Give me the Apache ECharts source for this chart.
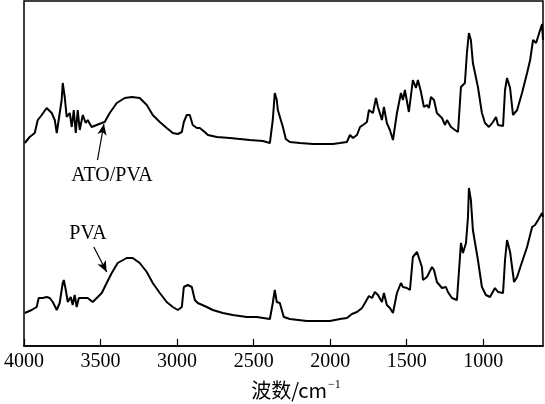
<!DOCTYPE html>
<html>
<head>
<meta charset="utf-8">
<script src="https://cdn.jsdelivr.net/npm/echarts@6/dist/echarts.min.js"></script>
<style>html,body{margin:0;padding:0;background:#fff}#c{width:545px;height:404px}</style>
</head>
<body>
<div id="c"></div>
<script>
const tickValues = [4000, 3500, 3000, 2500, 2000, 1500, 1000];
const xTitle = '波数/cm';
const labelTop = 'ATO/PVA';
const labelBottom = 'PVA';

const atoX = [3995,3963,3930,3910,3884,3852,3839,3819,3799,3786,3773,3754,3747,3734,3721,3701,3688,3675,3662,3649,3636,3616,3597,3584,3558,3525,3492,3473,3440,3394,3342,3296,3244,3198,3159,3113,3068,3028,2995,2969,2956,2937,2917,2898,2871,2852,2819,2799,2740,2656,2590,2525,2440,2394,2375,2362,2349,2342,2329,2309,2290,2264,2198,2113,2021,1982,1936,1891,1871,1851,1825,1805,1786,1760,1747,1740,1721,1701,1688,1662,1649,1630,1610,1590,1564,1538,1525,1512,1486,1460,1440,1427,1407,1388,1368,1355,1342,1322,1303,1270,1250,1237,1211,1185,1165,1146,1133,1120,1107,1094,1081,1068,1035,1009,989,963,937,917,904,871,858,845,825,806,779,747,714,694,675,655,635,616,610];
const atoY = [203,209,213,226,231,238,239,233,226,213,214,246,263,249,229,233,219,236,213,236,216,231,223,226,219,221,223,224,233,243,248,249,248,241,231,224,218,213,212,214,224,231,231,221,218,218,214,211,209,208,207,206,205,203,226,253,246,236,234,219,207,204,203,202,202,202,203,204,211,208,211,219,221,224,236,236,233,248,239,226,239,223,216,206,233,253,246,256,234,266,258,266,254,239,241,238,249,246,233,228,221,226,219,216,214,259,261,263,293,313,306,283,259,233,223,219,224,229,221,220,256,268,258,231,236,253,273,286,306,303,313,322,306];

const pvaX = [3995,3950,3917,3904,3878,3852,3832,3812,3786,3767,3747,3740,3727,3714,3695,3682,3669,3656,3642,3616,3584,3551,3518,3492,3460,3427,3388,3329,3290,3244,3198,3159,3113,3068,3028,2995,2969,2956,2943,2930,2904,2884,2865,2852,2806,2767,2701,2636,2545,2479,2394,2375,2362,2349,2329,2303,2264,2152,2002,1936,1891,1858,1825,1792,1773,1747,1727,1708,1688,1682,1662,1649,1630,1610,1590,1564,1538,1525,1499,1479,1460,1433,1420,1401,1394,1368,1355,1335,1322,1303,1270,1244,1231,1205,1172,1159,1146,1133,1113,1100,1094,1081,1068,1035,1009,983,956,924,904,871,858,845,825,799,779,747,714,681,662,642,616,610];
const pvaY = [33,36,39,48,48,49,48,44,36,43,63,66,56,44,49,41,51,39,48,48,48,44,49,53,63,73,83,88,88,83,74,63,53,44,39,36,39,59,61,61,59,46,43,43,39,36,33,31,29,29,27,43,56,44,43,29,27,25,25,27,28,32,34,38,43,50,48,54,51,51,44,53,41,38,33,53,63,59,58,56,89,94,93,79,66,69,69,79,76,64,58,59,54,48,46,46,103,93,103,129,158,146,116,86,59,51,49,58,54,53,86,106,94,64,69,84,99,119,121,126,133,129];

const atoData = atoX.map((x, i) => [x, atoY[i]]);
const pvaData = pvaX.map((x, i) => [x, pvaY[i]]);

const serif = '"Liberation Serif", "Times New Roman", serif';
const chart = echarts.init(document.getElementById('c'));
chart.setOption({
  animation: false,
  grid: { left: 24, right: 2, top: 1, bottom: 58, show: true, borderColor: '#000', borderWidth: 1.5, backgroundColor: 'transparent' },
  xAxis: {
    type: 'value', min: 610, max: 4000, inverse: true,
    axisLine: { show: true, lineStyle: { color: '#000', width: 1.5 } },
    axisTick: { show: true, inside: true, length: 7, customValues: tickValues, lineStyle: { color: '#000', width: 1.2 } },
    axisLabel: { show: true, customValues: tickValues, margin: 6, color: '#000', fontFamily: serif, fontSize: 20, formatter: v => String(v) },
    splitLine: { show: false }
  },
  yAxis: { type: 'value', min: 0, max: 345, show: false },
  series: [
    { type: 'line', data: atoData, showSymbol: false, lineStyle: { color: '#000', width: 2 }, silent: true,
      markLine: { silent: true, symbol: ['none', 'arrow'], symbolSize: [7, 11], label: { show: false },
        lineStyle: { color: '#000', width: 1.2, type: 'solid' },
        data: [[{ coord: [3520, 186] }, { coord: [3478, 222] }]] } },
    { type: 'line', data: pvaData, showSymbol: false, lineStyle: { color: '#000', width: 2 }, silent: true,
      markLine: { silent: true, symbol: ['none', 'arrow'], symbolSize: [7, 11], label: { show: false },
        lineStyle: { color: '#000', width: 1.2, type: 'solid' },
        data: [[{ coord: [3544, 99] }, { coord: [3460, 74] }]] } }
  ],
  graphic: [
    { type: 'text', x: 112, y: 176, style: { text: labelTop, font: '20px ' + serif, fill: '#000', align: 'center', verticalAlign: 'middle' } },
    { type: 'text', x: 88, y: 234, style: { text: labelBottom, font: '20px ' + serif, fill: '#000', align: 'center', verticalAlign: 'middle' } },
    { type: 'text', x: 296, y: 390, style: {
        text: '{a|' + xTitle + '}{s|−1}', align: 'center', verticalAlign: 'middle',
        rich: {
          a: { fontFamily: '"Noto Sans CJK SC", ' + serif, fontSize: 20, fill: '#000', color: '#000' },
          s: { fontFamily: serif, fontSize: 12, color: '#000', fill: '#000', padding: [0, 0, 10, 1] }
        } } }
  ]
});
</script>
</body>
</html>
